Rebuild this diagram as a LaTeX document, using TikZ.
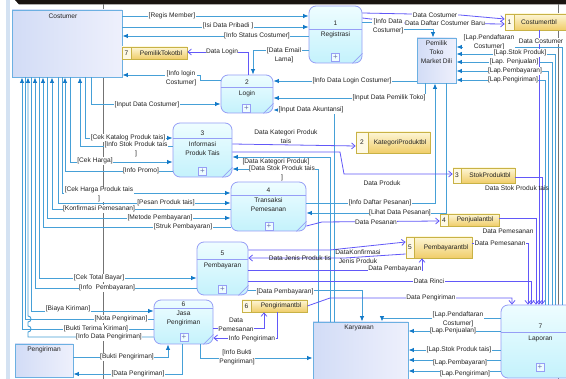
\documentclass[tikz,border=0pt]{standalone}
\usepackage{fontspec}
\setmainfont{Liberation Sans}
\usetikzlibrary{arrows.meta}

\definecolor{flowblue}{RGB}{70,160,215}
\definecolor{tipblue}{RGB}{20,122,200}
\definecolor{flowpurple}{RGB}{98,88,248}
\definecolor{procedge}{RGB}{150,158,246}
\definecolor{proctop}{RGB}{238,253,255}
\definecolor{procbot}{RGB}{196,242,252}
\definecolor{entedge}{RGB}{108,176,226}
\definecolor{entdark}{RGB}{210,220,246}
\definecolor{entlight}{RGB}{238,240,252}
\definecolor{storeedge}{RGB}{200,178,70}
\definecolor{storetop}{RGB}{253,246,214}
\definecolor{storebot}{RGB}{240,205,105}
\definecolor{storecell}{RGB}{254,249,228}
\definecolor{txt}{RGB}{35,35,35}
\definecolor{pagegrey}{RGB}{115,115,115}
\definecolor{sidestrip}{RGB}{212,226,242}
\definecolor{topbar}{RGB}{26,20,16}

\newcommand{\lblfont}{\fontsize{6.6}{8.8}\selectfont}

\begin{document}
\begin{tikzpicture}[x=1pt,y=-1pt,
  every node/.style={font=\lblfont,text=txt,inner sep=0pt},
  sz/.style 2 args={minimum width=#1pt,minimum height=#2pt},
  proc/.style={draw=procedge,line width=0.8pt,rounded corners=7pt,top color=proctop,bottom color=procbot},
  ent/.style={draw=entedge,line width=0.9pt,left color=entdark,right color=entlight},
  store/.style={draw=storeedge,line width=0.7pt,top color=storetop,bottom color=storebot},
  cell/.style={draw=storeedge,line width=0.7pt,fill=storecell},
  plusbox/.style={draw=procedge,line width=0.6pt,minimum size=8pt,fill=proctop,font=\fontsize{8}{8}\selectfont,text=procedge!70!black},
  bline/.style={draw=flowblue,line width=0.9pt},
  bf/.style={bline,-{Latex[length=5.5pt,width=4.5pt,color=tipblue]}},
  pline/.style={draw=flowpurple,line width=0.8pt},
  pf/.style={pline,-{Straight Barb[length=3.5pt,width=6pt]}},
  lab/.style={fill=white,inner sep=0.5pt,align=center},
  tag/.style={align=center},
  divider/.style={draw=procedge,line width=0.7pt},
]
\useasboundingbox (0,0) rectangle (566,379);
\clip (0,0) rectangle (566,379);
\fill[white] (0,0) rectangle (566,379);

% page furniture
\fill[sidestrip] (6,0) rectangle (10,379);
\fill[topbar] (15,0) -- (566,0) -- (566,4.5) -- (19,4.5) -- cycle;
\draw[pagegrey,line width=0.6pt] (103,4) -- (103,379);
\draw[pagegrey,line width=0.6pt] (558,4) -- (558,379);

% ---------- external entities ----------
\node[ent,sz={110}{67}] (costumer) at (67,43.5) {};
\node (costumerT) at (63,16) {Costumer};
\node[ent,sz={39}{45}] (pemilik) at (436.5,60.5) {};
\node[tag] (pemilikT) at (436.5,52) {Pemilik\\Toko\\Market Dili};
\node[ent,sz={95}{57}] (karyawan) at (360.5,350.5) {};
\node (karyawanT) at (359,327.5) {Karyawan};
\node[ent,sz={58}{33}] (pengirim) at (44,360.5) {};
\node (pengirimT) at (44,349.5) {Pengiriman};

% ---------- processes ----------
\node[proc,sz={53}{57}] (p1) at (335.5,34.5) {};
\draw[divider] (p1.west |- 0,29) -- (p1.east |- 0,29);
\node (p1n) at (335.5,23) {1};
\node (p1t) at (335.5,35) {Registrasi};

\node[proc,sz={52}{38}] (p2) at (247,94) {};
\draw[divider] (p2.west |- 0,87) -- (p2.east |- 0,87);
\node (p2n) at (247,82.5) {2};
\node (p2t) at (247,93.5) {Login};

\node[proc,sz={59}{54}] (p3) at (202.5,150) {};
\draw[divider] (p3.west |- 0,138.5) -- (p3.east |- 0,138.5);
\node (p3n) at (202.5,133) {3};
\node[tag] (p3t) at (202.5,149) {Informasi\\Produk Tais};

\node[proc,sz={75}{49}] (p4) at (268.5,206.5) {};
\draw[divider] (p4.west |- 0,195) -- (p4.east |- 0,195);
\node (p4n) at (268.5,190) {4};
\node[tag] (p4t) at (268.5,205) {Transaksi\\Pemesanan};

\node[proc,sz={51}{53}] (p5) at (222.5,268.5) {};
\draw[divider] (p5.west |- 0,259) -- (p5.east |- 0,259);
\node (p5n) at (222.5,253.5) {5};
\node (p5t) at (222.5,265.5) {Pembayaran};

\node[proc,sz={59}{44}] (p6) at (183.5,322) {};
\draw[divider] (p6.west |- 0,308.5) -- (p6.east |- 0,308.5);
\node (p6n) at (183.5,304) {6};
\node[tag] (p6t) at (183.5,318.5) {Jasa\\Pengiriman};

\node[proc,sz={79}{73}] (p7) at (540.5,341.5) {};
\draw[divider] (p7.west |- 0,332) -- (p7.east |- 0,332);
\node (p7n) at (540.5,326.5) {7};
\node (p7t) at (540.5,338.5) {Laporan};

% ---------- data stores ----------
\node[store,sz={95}{16}] (ds1) at (552.5,22) {};
\node[cell,sz={9}{16}] (ds1n) at (509.5,22) {1};
\node (ds1t) at (539,22) {Costumertbl};

\node[store,sz={65}{12}] (ds7) at (154.5,53) {};
\node[cell,sz={9}{12}] (ds7n) at (126.5,53) {7};
\node (ds7t) at (161,53) {PemilikTokotbl};

\node[store,sz={74}{21}] (ds2) at (393,142.5) {};
\node[cell,sz={12}{21}] (ds2n) at (362,142.5) {2};
\node (ds2t) at (400,142.5) {KategoriProduktbl};

\node[store,sz={62}{15}] (ds3) at (484,175.5) {};
\node[cell,sz={8}{15}] (ds3n) at (457,175.5) {3};
\node (ds3t) at (490,175.5) {StokProduktbl};

\node[store,sz={59}{12}] (ds4) at (469.5,220) {};
\node[cell,sz={8}{12}] (ds4n) at (444,220) {4};
\node (ds4t) at (475,220) {Penjualantbl};

\node[store,sz={66}{21}] (ds5) at (439,247.5) {};
\node[cell,sz={8}{21}] (ds5n) at (410,247.5) {5};
\node (ds5t) at (446,247.5) {Pembayarantbl};

\node[store,sz={65}{12}] (ds6) at (274.5,306) {};
\node[cell,sz={9}{12}] (ds6n) at (246.5,306) {6};
\node (ds6t) at (281,306) {Pengirimantbl};

% ---------- registration and login ----------
\draw[bf] (costumer.east |- 0,16) -- (p1.west |- 0,16);
\draw[bf] (costumer.east |- 0,27) -- (p1.west |- 0,27);
\draw[bf] (p1.west |- 0,36) -- (costumer.east |- 0,36);
\draw[bf] (p1.west |- 0,50) -| (p2.north -| 253,0);
\draw[pf] (p2.north -| 248,0) |- (ds7.east |- 0,52);
\draw[bf] (p2.west |- 0,80) -- (200,80) -- (200,75) -- (costumer.east |- 0,75);
\draw[bf] (costumer.south -| 91,0) |- (p2.west |- 0,104);
\draw[bf] (pemilik.west |- 0,81) -- (p2.east |- 0,81);
\draw[bf] (pemilik.south -| 425,0) |- (p2.east |- 0,98);
\draw[bf] (karyawan.north -| 334,0) |- (p2.east |- 0,110);
\draw[bf] (p1.east |- 0,22) -- (400,22) |- (433,29) -- (pemilik.north -| 433,0);
\draw[pf] (p1.east |- 0,13) -- (460,15) -- (ds1.west |- 0,19);
\draw[pf] (p1.east |- 0,18) -- (403,23) -- (ds1.west |- 0,24);

% ---------- reports to the shop owner ----------
\draw[bf] (p7.north -| 562,0) |- (pemilik.east |- 0,47);
\draw[bf] (p7.north -| 555,0) |- (pemilik.east |- 0,54);
\draw[bf] (p7.north -| 552,0) |- (pemilik.east |- 0,62);
\draw[bf] (p7.north -| 548,0) |- (pemilik.east |- 0,71);
\draw[bf] (p7.north -| 545,0) |- (pemilik.east |- 0,80);
\draw[bf] (p4.east |- 0,203) -| (pemilik.south -| 435,0);
\draw[bf] (pemilik.south -| 446,0) |- (p4.east |- 0,213);

% ---------- product information ----------
\draw[bf] (costumer.south -| 85,0) |- (p3.west |- 0,138);
\draw[bf] (p3.west |- 0,146) -| (costumer.south -| 80,0);
\draw[bf] (costumer.south -| 70,0) |- (p3.west |- 0,162);
\draw[bf] (p3.west |- 0,171) -| (costumer.south -| 65,0);
\draw[pf] (p3.east |- 0,144) -- (ds2.west |- 0,146);
\draw[pf] (p3.east |- 0,152) -- (340,152) -- (344,174) -- (ds3.west |- 0,174);
\draw[bf] (karyawan.north -| 330,0) |- (p3.east |- 0,157);
\draw[bf] (karyawan.north -| 318,0) |- (p3.east |- 0,169);

% ---------- ordering ----------
\draw[bf] (costumer.south -| 62,0) |- (p4.west |- 0,193);
\draw[bf] (costumer.south -| 58,0) |- (p4.west |- 0,203);
\draw[bf] (p4.west |- 0,209) -| (costumer.south -| 52,0);
\draw[bf] (costumer.south -| 47,0) |- (p4.west |- 0,218);
\draw[bf] (p4.west |- 0,227) -| (costumer.south -| 43,0);
\draw[pf] (p4.east |- 0,226) -- (322,222) -- (ds4.west |- 0,221);

% ---------- payment ----------
\draw[bf] (costumer.south -| 39,0) |- (p5.west |- 0,278);
\draw[bf] (p5.west |- 0,288) -| (costumer.south -| 35,0);
\draw[pf] (p5.east |- 0,250) -- (330,250) -- (ds5.west |- 0,242);
\draw[pf] (ds5.west |- 0,254) -- (345,258) -- (p5.east |- 0,258);
\draw[pf] (p5.east |- 0,270) -| (ds5.south -| 422,0);
\draw[pf] (p5.east |- 0,281) -| (p7.north -| 531,0);
\draw[bf] (p5.east |- 0,290) -| (karyawan.north -| 362,0);

% ---------- shipping ----------
\draw[bf] (costumer.south -| 31,0) |- (p6.west |- 0,311);
\draw[bline] (p6.west |- 0,319) -| (costumer.south -| 25,0);
\draw[bf] (p6.west |- 0,329) -| (costumer.south -| 22,0);
\draw[bf] (p6.west |- 0,337) -- (28,337) -- (28,332)
      .. controls (32,332) and (32,326) .. (28,326) -- (28,322)
      .. controls (32,322) and (32,316) .. (28,316) -- (costumer.south -| 28,0);
\draw[bf] (pengirim.east |- 0,357) -| (p6.south -| 168,0);
\draw[bf] (p6.south -| 182,0) |- (pengirim.east |- 0,374);
\draw[bf] (p6.south -| 200,0) |- (karyawan.west |- 0,358);
\draw[pf] (p6.east |- 0,328) -| (ds6.south -| 264,0);
\draw[pf] (ds6.south -| 277,0) |- (p6.east |- 0,338);

% ---------- stores feeding the report ----------
\draw[pf] (ds6.east) -- (330,298) -| (p7.north -| 512,0);
\draw[pf] (ds5.east |- 0,243) -| (p7.north -| 528,0);
\draw[pf] (ds4.east |- 0,218) -| (p7.north -| 536,0);
\draw[pf] (ds3.east |- 0,177) -| (p7.north -| 542,0);
\draw[pf] (ds1.south -| 539,0) -- (p7.north -| 539,0);

% ---------- reports to staff ----------
\draw[bf] (p7.west |- 0,318) -| (karyawan.north -| 382,0);
\draw[bf] (p7.west |- 0,331) -- (karyawan.east |- 0,331);
\draw[bf] (p7.west |- 0,350) -- (karyawan.east |- 0,350);
\draw[bf] (p7.west |- 0,360) -- (karyawan.east |- 0,360);
\draw[bf] (p7.west |- 0,371) -- (karyawan.east |- 0,371);

% ---------- plus markers and corner folds ----------
\foreach \p/\x/\y in {p1/335.5/57.5, p2/246.5/108.5, p3/202.5/171.5, p4/269/226, p5/222.5/289.5, p6/184/337.5, p7/540/367.5}{
  \node[plusbox] (\p plus) at (\x,\y) {+};
  \draw[divider] ([yshift=10pt]\p.south east) -- ([xshift=-10pt]\p.south east);
}

% ---------- flow labels ----------
\node[lab] (l01) at (172,16) {[Regis Member]};
\node[lab] (l02) at (228,25.5) {[Isi Data Pribadi ]};
\node[lab] (l03) at (257,36) {[Info Status Costumer]};
\node[lab] (l04) at (222,51.5) {Data Login};
\node[lab] (l05) at (284,55) {[Data Email\\Lama]};
\node[lab] (l06) at (181,78.5) {[Info login\\Costumer]};
\node[lab] (l07) at (147,104.5) {[Input Data Costumer]};
\node[lab] (l08) at (352,81) {[Info Data Login Costumer]};
\node[lab] (l09) at (389,98) {[Input Data Pemilik Toko]};
\node[lab] (l10) at (311,110) {[Input Data Akuntansi]};
\node[lab] (l11) at (388,26.5) {[Info Data\\Costumer]};
\node[lab] (l12) at (435,15) {Data Costumer};
\node[lab] (l13) at (445,23) {Data Daftar Costumer Baru};
\node[lab] (l14) at (489,42.5) {[Lap.Pendaftaran\\Costumer]};
\node[lab] (l15) at (541,41) {Data Costumer};
\node[lab] (l16) at (520,53) {[Lap.Stok Produk]};
\node[lab] (l17) at (514,62) {[Lap. Penjualan]};
\node[lab] (l18) at (515,71) {[Lap.Pembayaran]};
\node[lab] (l19) at (513,80) {[Lap.Pengiriman]};
\node[lab] (l20) at (128,138) {[Cek Katalog Produk tais]};
\node[lab] (l21) at (136,149.5) {[Info Stok Produk tais\\]};
\node[lab] (l22) at (95,161) {[Cek Harga]};
\node[lab] (l23) at (141,171) {[Info Promo]};
\node[lab] (l24) at (286,137) {Data Kategori Produk\\tais};
\node[lab] (l25) at (382,183) {Data Produk};
\node[lab] (l26) at (276,162) {[Data Kategori Produk]};
\node[lab] (l27) at (282,173) {[Data Stok Produk tais\\]};
\node[tag] (l28) at (517,188) {Data Stok Produk tais};
\node[lab] (l29) at (99,194.5) {[Cek Harga Produk tais\\]};
\node[lab] (l30) at (166,203) {[Pesan Produk tais]};
\node[lab] (l31) at (99,209) {[Konfirmasi Pemesanan]};
\node[lab] (l32) at (160,218) {[Metode Pembayaran]};
\node[lab] (l33) at (183,227) {[Struk Pembayaran]};
\node[lab] (l34) at (380,203) {[Info Daftar Pesanan]};
\node[lab] (l35) at (400,213) {[Lihat Data Pesanan]};
\node[lab] (l36) at (376,222) {Data Pesanan};
\node[lab] (l37) at (508,231) {Data Pemesanan};
\node[lab] (l38) at (500,243) {Data Pemesanan};
\node[lab] (l39) at (99,278) {[Cek Total Bayar]};
\node[lab] (l40) at (107,288) {[Info\ \ Pembayaran]};
\node[tag] (l41) at (358,256.5) {DataKonfirmasi\\Jenis Produk};
\node[tag] (l42) at (300,258) {Data Jenis Produk tis};
\node[lab] (l43) at (395,269) {Data Pembayaran};
\node[lab] (l44) at (429,281) {Data Rinci};
\node[lab] (l45) at (285,292) {[Data Pembayaran]};
\node[lab] (l46) at (431,297.5) {Data Pengiriman};
\node[lab] (l47) at (68,309) {[Biaya Kiriman]};
\node[lab] (l48) at (121,319) {[Nota Pengiriman]};
\node[lab] (l49) at (96,329) {[Bukti Terima Kiriman]};
\node[lab] (l50) at (109,337) {[Info Data Pengiriman]};
\node[lab] (l51) at (127,357) {[Bukti Pengiriman]};
\node[lab] (l52) at (138,374) {[Data Pengiriman]};
\node[lab] (l53) at (236,324.5) {Data\\Pemesanan};
\node[lab] (l54) at (252,339) {Info Pengiriman};
\node[lab] (l55) at (237,357.5) {[Info Bukti\\Pengiriman]};
\node[lab] (l56) at (458,319.5) {[Lap.Pendaftaran\\Costumer]};
\node[lab] (l57) at (453,331) {[Lap.Penjualan]};
\node[lab] (l58) at (459,350) {[Lap.Stok Produk tais]};
\node[lab] (l59) at (460,362.5) {[Lap.Pembayaran]};
\node[lab] (l60) at (465,374) {[Lap.Pengiriman]};
\end{tikzpicture}
\end{document}
